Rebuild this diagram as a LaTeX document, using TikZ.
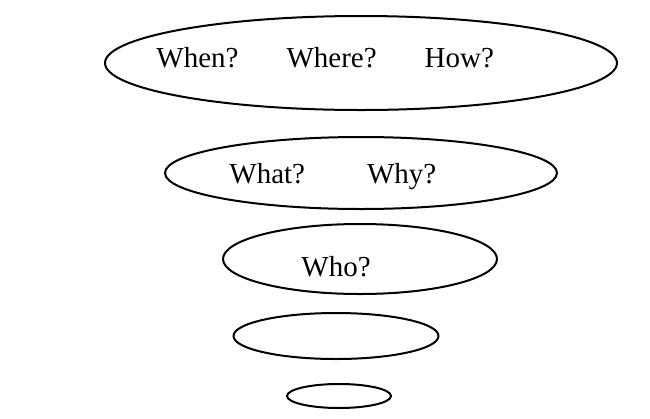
\documentclass[tikz,border=0pt]{standalone}
\usepackage{fontspec}
\setmainfont{Liberation Serif}
\usetikzlibrary{shapes.geometric}
\tikzset{
  oval/.style={draw, ellipse, line width=1pt, inner sep=0pt},
  lbl/.style={anchor=base west, inner sep=0pt, font=\fontsize{14.5pt}{17pt}\selectfont}
}
\begin{document}
\begin{tikzpicture}[x=0.5pt, y=-0.5pt]
\useasboundingbox (0,0) rectangle (650,419);
\node[oval, minimum width=256pt, minimum height=47pt] (e1) at (361,63) {};
\node[oval, minimum width=196pt, minimum height=36pt] (e2) at (361,173) {};
\node[oval, minimum width=137pt, minimum height=35pt] (e3) at (360,259) {};
\node[oval, minimum width=102.5pt, minimum height=23pt] (e4) at (336,336) {};
\node[oval, minimum width=52pt, minimum height=12pt] (e5) at (339,396) {};
\node[lbl] (t1) at (156,67) {When?\hspace{24pt}Where?\hspace{24pt}How?};
\node[lbl] (t2) at (229,183) {What?\hspace{31pt}Why?};
\node[lbl] (t3) at (301,276) {Who?};
\end{tikzpicture}
\end{document}
